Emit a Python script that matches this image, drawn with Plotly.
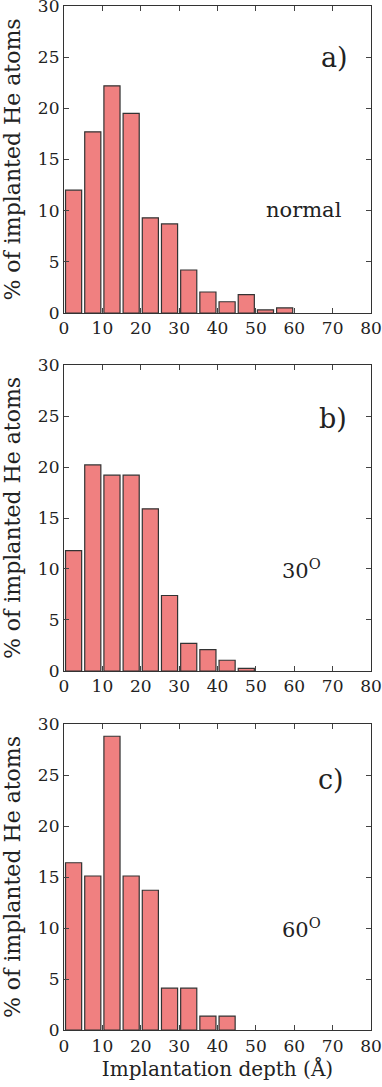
import plotly.graph_objects as go
from plotly.subplots import make_subplots

# Bin centres of implantation depth (Angstrom), 5 A bins
depth = [2.5, 7.5, 12.5, 17.5, 22.5, 27.5, 32.5, 37.5, 42.5, 47.5, 52.5, 57.5]

# % of implanted He atoms per bin (only non-empty bins)
normal = [12.0, 17.7, 22.2, 19.5, 9.3, 8.7, 4.2, 2.05, 1.1, 1.8, 0.3, 0.5]
deg30 = [11.8, 20.2, 19.2, 19.2, 15.9, 7.4, 2.7, 2.1, 1.05, 0.26]
deg60 = [16.4, 15.1, 28.8, 15.1, 13.7, 4.1, 4.1, 1.37, 1.37]

panel_labels = ["a)", "b)", "c)"]
angle_labels = ["normal", "30<sup>O</sup>", "60<sup>O</sup>"]
series = [normal, deg30, deg60]

FONT = "DejaVu Serif"
INK = "#222222"

fig = make_subplots(rows=3, cols=1)

domains = [[0.7002, 1.0], [0.3506, 0.6494], [0.0, 0.2988]]
panel_pos = [(70.4, 25.0), (70.0, 24.8), (69.6, 24.6)]
angle_pos = [(62.6, 10.1), (62.0, 10.0), (62.0, 10.0)]

for i, vals in enumerate(series):
    row = i + 1
    fig.add_trace(
        go.Bar(x=depth[:len(vals)], y=vals, width=4.2,
               marker=dict(color="#F08080", line=dict(color="#333333", width=1.2)),
               showlegend=False),
        row=row, col=1,
    )
    fig.update_xaxes(range=[0, 80], dtick=10, ticks="inside", ticklen=5,
                     mirror="allticks", showline=True, linecolor="#333333",
                     linewidth=1.2, showgrid=False, zeroline=False,
                     automargin=False, ticklabeloverflow="allow",
                     tickfont=dict(family=FONT, size=17, color=INK),
                     row=row, col=1)
    fig.update_yaxes(range=[0, 30], dtick=5, ticks="inside", ticklen=5,
                     mirror="allticks", showline=True, linecolor="#333333",
                     linewidth=1.2, showgrid=False, zeroline=False,
                     automargin=False, ticklabeloverflow="allow",
                     domain=domains[i],
                     title=dict(text="% of implanted He atoms", standoff=14,
                                font=dict(family=FONT, size=22, color=INK)),
                     tickfont=dict(family=FONT, size=17, color=INK),
                     row=row, col=1)
    xref = "x" if row == 1 else f"x{row}"
    yref = "y" if row == 1 else f"y{row}"
    fig.add_annotation(x=panel_pos[i][0], y=panel_pos[i][1], xref=xref, yref=yref,
                       text=panel_labels[i], showarrow=False,
                       font=dict(family=FONT, size=27, color=INK))
    fig.add_annotation(x=angle_pos[i][0], y=angle_pos[i][1], xref=xref, yref=yref,
                       text=angle_labels[i], showarrow=False,
                       font=dict(family=FONT, size=21, color=INK))

fig.update_xaxes(title=dict(text="Implantation depth (Å)", standoff=2,
                            font=dict(family=FONT, size=20, color=INK)),
                 row=3, col=1)

fig.update_layout(
    width=382, height=1087,
    margin=dict(l=64, r=11, t=6, b=57),
    plot_bgcolor="white", paper_bgcolor="white",
)

# drop the browser's default 8px body margin so the figure sits at the page corner
fig.write_html("out.html", config={"displayModeBar": False},
               post_script="document.body.style.margin='0';")
